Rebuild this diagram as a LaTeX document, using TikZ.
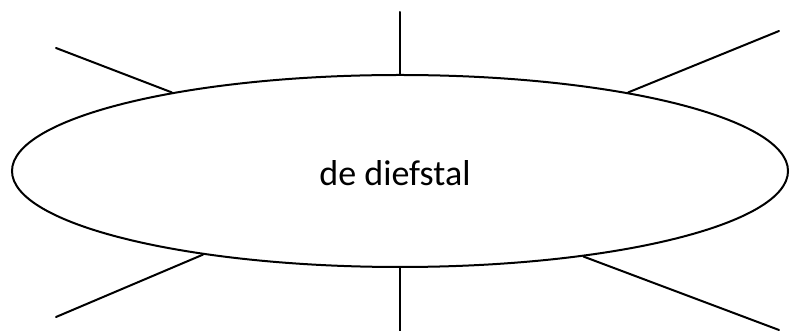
\documentclass[tikz,border=0pt]{standalone}
\usepackage{fontspec}
\setmainfont{Carlito}
\usetikzlibrary{shapes.geometric}
\begin{document}
\begin{tikzpicture}[x=1pt,y=1pt,
  ray/.style={line width=2pt, line cap=round},
  oval/.style={ellipse, draw, line width=2pt, minimum width=776pt, minimum height=192pt, inner sep=0pt}]
\useasboundingbox (0,0) rectangle (791,331);
\node[oval] (e) at (400,160) {};
\node[font=\fontsize{36}{40}\selectfont, inner sep=0pt] (lbl) at (395,158) {de diefstal};
\coordinate (top) at (400,319);
\coordinate (bot) at (400,0);
\coordinate (ul) at (56,283);
\coordinate (ur) at (779,300);
\coordinate (ll) at (56,14);
\coordinate (lr) at (779,1);
\draw[ray] (top) -- (e.north);
\draw[ray] (bot) -- (e.south);
\draw[ray] (ul) -- (e.161.5);
\draw[ray] (ur) -- (e.19.6);
\draw[ray] (ll) -- (e.203.8);
\draw[ray] (lr) -- (e.335.7);
\end{tikzpicture}
\end{document}
